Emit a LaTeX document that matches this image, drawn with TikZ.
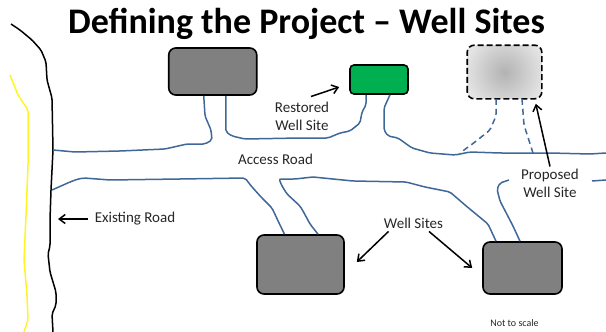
\documentclass[tikz,border=0pt]{standalone}
\usepackage{fontspec}
\setmainfont{Carlito}
\usetikzlibrary{arrows.meta}
\definecolor{roadblue}{HTML}{3F6797}
\definecolor{sitegreen}{HTML}{00B050}
\tikzset{
  road/.style={draw=roadblue, line width=1.5pt, rounded corners=2pt},
  roadplan/.style={road, dashed, dash pattern=on 6pt off 4pt},
  edgeroad/.style={line width=1.5pt, rounded corners=2pt},
  site/.style={rectangle, rounded corners=7pt, draw=black, line width=1.6pt, fill=black!50, inner sep=0pt},
  lbl/.style={font=\fontsize{15}{18}\selectfont, align=center, text=black!85, inner sep=0pt},
  pointer/.style={-{Straight Barb[length=6pt,width=9pt]}, line width=1.5pt},
}
\begin{document}
\begin{tikzpicture}[x=1pt,y=-1pt]
\useasboundingbox (0,0) rectangle (606,332);
\node[font=\fontsize{36}{40}\selectfont\bfseries, inner sep=0pt] (title) at (306.5,23.5){Defining the Project -- Well Sites};
% existing road and its shoulder
\draw[edgeroad] (11,24) -- (20,30) -- (32,40) -- (41,50) -- (46,62) -- (47,80) -- (52,98) -- (53,150) -- (51,190) -- (50,220) -- (50,246) -- (48,254) -- (50,272) -- (56,292) -- (56,305) -- (52,314) -- (53,332);
\draw[edgeroad, draw=yellow!85!white] (10,75) -- (18,95) -- (28,110) -- (28,166) -- (26,215) -- (24,260) -- (27,295) -- (28,320) -- (24,332);
\coordinate (roadN) at (53,150);
\coordinate (roadS) at (52,190);
\coordinate (roadE) at (606,153);
% sites
\node[site, minimum width=88pt, minimum height=47pt] (siteA) at (212.75,71.5){};
\node[site, fill=sitegreen, minimum width=58pt, minimum height=29pt, rounded corners=4pt] (siteB) at (379,79.5){};
\node[site, draw=none, fill=black!8, minimum width=73pt, minimum height=52pt] (siteP) at (504.5,72){};
\begin{scope}
\clip[rounded corners=7pt] (siteP.south west) rectangle (siteP.north east);
\shade[inner color=black!30, outer color=black!8] (siteP.center) circle (45);
\end{scope}
\draw[line width=1.6pt, dashed, dash pattern=on 6pt off 3pt, rounded corners=7pt] (siteP.south west) rectangle (siteP.north east);
\node[site, minimum width=87pt, minimum height=59pt] (siteC) at (300.5,264.5){};
\node[site, minimum width=79pt, minimum height=52pt] (siteD) at (522.5,268){};
% access roads
\draw[road] (roadN) -- (75,152) -- (120,151) -- (165,149) -- (187,144) -- (205,144) -- (212,140) -- (211,130) -- (205,116) -- ([xshift=-9pt]siteA.south);
\draw[road] ([xshift=13pt]siteA.south) -- (226,132) -- (232,136) -- (245,139) -- (300,138) -- (328,138) -- (340,133) -- (350,131) -- (360,123) -- (362,112) -- (366,105) -- ([xshift=-13pt]siteB.south);
\draw[road] ([xshift=11pt]siteB.south) -- (384,108) -- (384,130) -- (388,136) -- (398,138) -- (412,148) -- (430,153) -- (455,155) -- (470,152) -- (500,153) -- (550,153) -- (590,154) -- (roadE);
\draw[road] (roadS) -- (70,182) -- (78,179) -- (84,178) -- (110,180) -- (180,179) -- (245,178) -- (252,187) -- (262,198) -- (272,208) -- (280,225) -- ([xshift=-16pt]siteC.north);
\draw[road] ([xshift=17.5pt]siteC.north) -- (310,224) -- (303,211) -- (300,206) -- (287,194) -- (282,186) -- (279,179) -- (295,179) -- (313,177) -- (353,181) -- (406,182) -- (425,187) -- (450,192) -- (465,205) -- (488,224) -- ([xshift=-26.5pt]siteD.north);
\coordinate (roadF) at (509,180);
\coordinate (roadG) at (592,181);
\coordinate (roadH) at (606,180);
\draw[road] ([xshift=-2.5pt]siteD.north) -- (513,226) -- (500,201) -- (497,189) -- (500,183) -- (roadF);
\draw[road] (roadG) -- (roadH);
% planned spurs
\coordinate (spurL) at (460,153);
\coordinate (spurR) at (533,153);
\draw[roadplan] ([xshift=-8.5pt]siteP.south) -- (496,116) -- (490,130) -- (475,142) -- (spurL);
\draw[roadplan] ([xshift=17.5pt]siteP.south) -- (524,125) -- (spurR);
% labels
\node[lbl] (lblRestored) at (302,116){Restored\\Well Site};
\node[lbl] (lblAccess) at (275.5,159){Access Road};
\node[lbl] (lblExisting) at (135,219){Existing Road};
\node[lbl] (lblSites) at (413.5,223){Well Sites};
\node[lbl] (lblProposed) at (550,183){Proposed\\Well Site};
\node[lbl, font=\fontsize{10}{12}\selectfont] (lblScale) at (514.5,323){Not to scale};
% pointers
\draw[pointer] ([shift={(9,-5)}]lblRestored.north) -- ([shift={(-10,7.5)}]siteB.west);
\draw[pointer] ([shift={(-7,0)}]lblExisting.west) -- (58,219);
\draw[pointer] ([shift={(-25,3)}]lblSites.south) -- ([shift={(12,-2.5)}]siteC.east);
\draw[pointer] ([shift={(15.5,3)}]lblSites.south) -- ([shift={(-10,0)}]siteD.west);
\draw[pointer] ([yshift=2pt]lblProposed.north) -- ([shift={(-6,5)}]siteP.south east);
\end{tikzpicture}
\end{document}
